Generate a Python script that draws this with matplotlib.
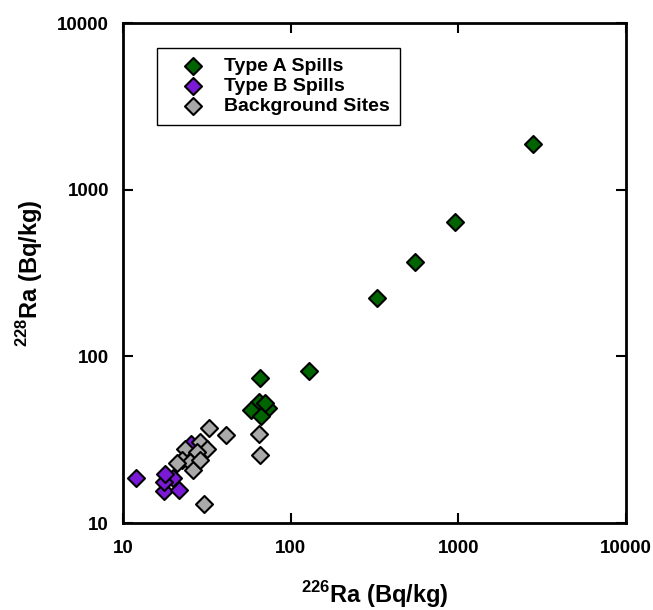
import matplotlib
matplotlib.use('Agg')
import matplotlib.pyplot as plt
import matplotlib.ticker as ticker

plt.rcParams['font.family'] = ['Liberation Sans', 'DejaVu Sans']
plt.rcParams['font.weight'] = 'bold'
plt.rcParams['mathtext.fontset'] = 'custom'
plt.rcParams['mathtext.rm'] = 'Liberation Sans:bold'
plt.rcParams['mathtext.bf'] = 'Liberation Sans:bold'

# Valores (Bq/kg)
type_a_ra226 = [2790, 955, 551, 327, 128, 65.6, 64.7, 58.0, 73.2, 66.5, 70.3]
type_a_ra228 = [1880, 640, 368, 224, 81.7, 74.2, 53.2, 47.6, 48.9, 43.9, 52.5]

type_b_ra226 = [11.95, 17.5, 21.6, 19.9, 17.5, 17.8, 25.4]
type_b_ra228 = [18.6, 15.6, 15.8, 18.6, 17.6, 19.7, 29.8]

bg_ra226 = [30.4, 32.6, 41.1, 64.7, 65.6, 28.8, 31.7, 23.4, 27.6, 22.5, 25.1, 26.1, 28.8, 21.0]
bg_ra228 = [13.0, 37.2, 33.7, 34.2, 25.6, 30.6, 27.8, 27.8, 26.7, 23.9, 23.2, 20.8, 23.9, 22.9]

TICKS = [10, 100, 1000, 10000]

fig = plt.figure(figsize=(6.53, 6.10), dpi=100)
ax = fig.add_axes([123 / 653, 1 - 523 / 610, 503 / 653, 500 / 610])

marker_kw = dict(marker='D', s=75, edgecolors='black', linewidths=1.5, zorder=3)
ax.scatter(type_a_ra226, type_a_ra228, color='#006400', label='Type A Spills', **marker_kw)
ax.scatter(type_b_ra226, type_b_ra228, color='#7a1ad6', label='Type B Spills', **marker_kw)
ax.scatter(bg_ra226, bg_ra228, color='#a9a9a9', label='Background Sites', **marker_kw)

ax.set_xscale('log')
ax.set_yscale('log')
ax.set_xlim(10, 10000)
ax.set_ylim(10, 10000)

for axis in (ax.xaxis, ax.yaxis):
    axis.set_major_locator(ticker.FixedLocator(TICKS))
    axis.set_major_formatter(ticker.FuncFormatter(lambda v, p: '%d' % v))
    axis.set_minor_locator(ticker.NullLocator())

ax.tick_params(axis='both', which='major', direction='in', length=7, width=1.5,
               top=True, right=True, labelsize=13.5)
ax.tick_params(axis='x', pad=12)
ax.tick_params(axis='y', pad=10)

for spine in ax.spines.values():
    spine.set_linewidth(2)

ax.set_xlabel(r'$^{226}$Ra (Bq/kg)', fontsize=17, fontweight='bold', labelpad=16)
ax.set_ylabel(r'$^{228}$Ra (Bq/kg)', fontsize=17, fontweight='bold', labelpad=9)

leg = ax.legend(loc='upper left', bbox_to_anchor=(0.068, 0.95), fontsize=14,
                frameon=True, fancybox=False, edgecolor='black', framealpha=1,
                handletextpad=0.25, labelspacing=0.12, borderpad=0.5,
                borderaxespad=0, handlelength=2.7)
leg.get_frame().set_linewidth(1.0)
for text in leg.get_texts():
    text.set_fontweight('bold')

fig.savefig('out.png', dpi=100)
